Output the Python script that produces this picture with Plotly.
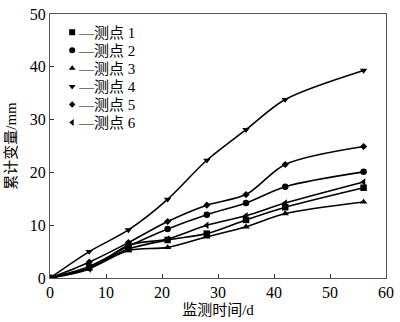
import plotly.graph_objects as go

# Monitoring days and cumulative deformation (mm) at each measuring point
days = [0, 7, 14, 21, 28, 35, 42, 56]
point1 = [0, 2.0, 5.5, 7.2, 8.4, 11.0, 13.4, 17.1]
point2 = [0, 2.2, 6.0, 9.3, 12.0, 14.2, 17.3, 20.1]
point3 = [0, 1.8, 5.2, 5.8, 7.8, 9.7, 12.2, 14.4]
point4 = [0, 5.0, 9.1, 14.9, 22.3, 28.1, 33.8, 39.3]
point5 = [0, 3.0, 6.7, 10.7, 13.8, 15.8, 21.5, 24.9]
point6 = [0, 1.7, 6.2, 7.4, 10.0, 11.8, 14.2, 18.2]

names = ["测点 1", "测点 2", "测点 3", "测点 4", "测点 5", "测点 6"]
series = [point1, point2, point3, point4, point5, point6]
symbols = ["square", "circle", "triangle-up", "triangle-down", "diamond", "triangle-left"]
sizes = [6.5, 6.5, 6.5, 6.5, 5.5, 6.5]

FONT = "Liberation Serif, Times New Roman, Noto Sans CJK SC, serif"

fig = go.Figure()
for name, vals, sym, sz in zip(names, series, symbols, sizes):
    fig.add_trace(go.Scatter(
        x=days, y=vals, name=name, mode="lines+markers",
        line=dict(color="black", width=1.6, shape="spline", smoothing=0.85),
        marker=dict(symbol=sym, size=sz, color="black"),
        showlegend=False,
    ))

# Hand-built legend: marker, short dash and label, stacked top-left
leg_x = 0.066
leg_y0 = 0.931
leg_dy = 0.0684
for i, (name, sym, sz) in enumerate(zip(names, symbols, sizes)):
    yy = leg_y0 - i * leg_dy
    fig.add_trace(go.Scatter(
        x=[leg_x], y=[yy], mode="markers", xaxis="x2", yaxis="y2",
        marker=dict(symbol=sym, size=sz - 0.5, color="black"),
        showlegend=False, hoverinfo="skip",
    ))
    fig.add_annotation(
        xref="paper", yref="paper", x=0.077, y=yy - 0.002,
        xanchor="left", yanchor="middle", showarrow=False,
        text="—" + name, font=dict(family=FONT, size=15, color="black"),
    )

axis_common = dict(
    showgrid=False, zeroline=False, showline=True, linecolor="#555",
    linewidth=1, mirror=True, ticks="inside", ticklen=4, tickcolor="#333",
    tickfont=dict(family=FONT, size=16, color="black"),
    ticklabeloverflow="allow",
)

fig.update_layout(
    width=400, height=322,
    margin=dict(l=50, r=9, t=6, b=41),
    plot_bgcolor="white", paper_bgcolor="white",
    font=dict(family=FONT, color="black"),
    xaxis=dict(range=[0, 60], dtick=10, **axis_common,
               title=dict(text="监测时间/d", font=dict(family=FONT, size=15), standoff=4)),
    yaxis=dict(range=[0, 50], dtick=10, **axis_common,
               title=dict(text="累计变量/mm", font=dict(family=FONT, size=15), standoff=9)),
    xaxis2=dict(range=[0, 1], overlaying="x", visible=False),
    yaxis2=dict(range=[0, 1], overlaying="y", visible=False),
)

fig.write_html("out.html")
